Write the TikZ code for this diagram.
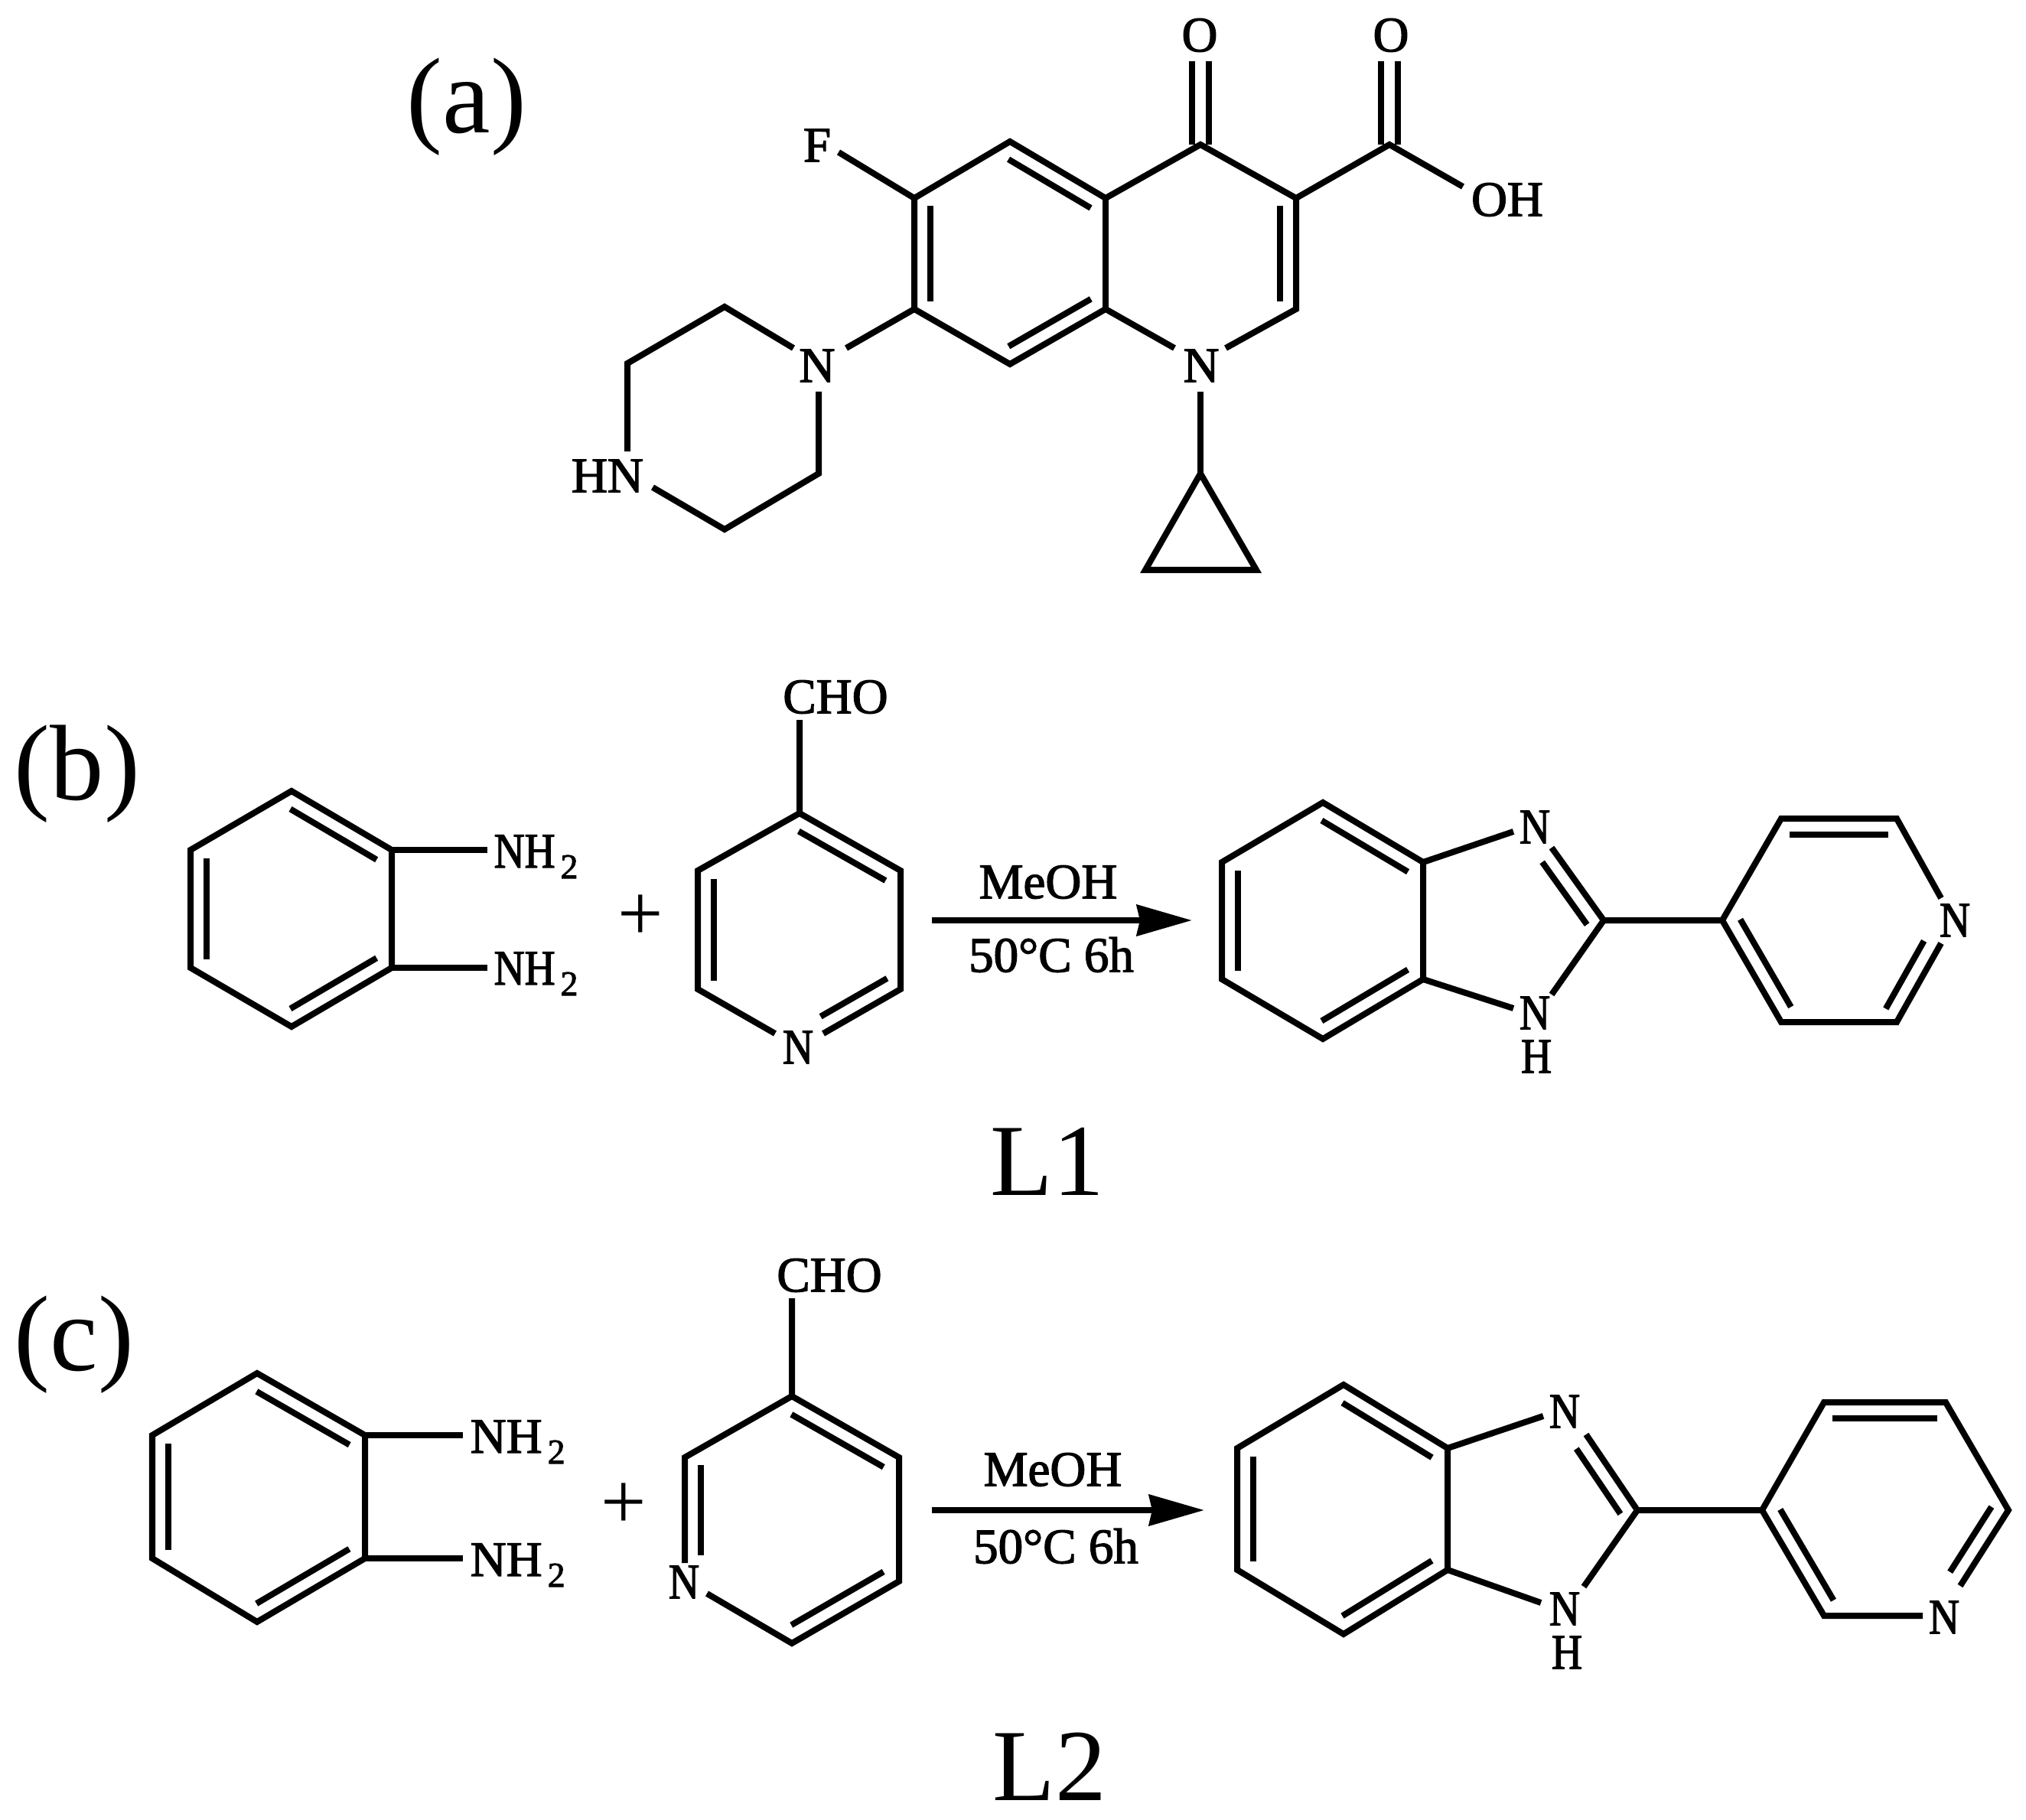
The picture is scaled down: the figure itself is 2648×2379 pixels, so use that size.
\documentclass[tikz,border=0pt]{standalone}
\usepackage{fontspec}
\setmainfont{Liberation Serif}
\newfontfamily\atomfont[FakeBold=2]{Liberation Serif}
\newfontfamily\narrowfont[FakeStretch=0.85,FakeBold=2]{Liberation Serif}
\usetikzlibrary{calc,arrows.meta}
\tikzset{
	bond/.style={line width=.08cm},
	atom/.style={inner sep=0pt,font=\atomfont\fontsize{18.5}{20}\selectfont},
	atomn/.style={inner sep=0pt,font=\narrowfont\fontsize{18.5}{20}\selectfont},
	amine/.style={atomn,anchor=base west},
	aminew/.style={atom,anchor=base west},
	panel/.style={inner sep=0pt,font=\fontsize{40}{44}\selectfont},
	ligand/.style={inner sep=0pt,font=\fontsize{38}{42}\selectfont},
	plussign/.style={inner sep=0pt,font=\fontsize{30}{32}\selectfont},
	reagent/.style={inner sep=0pt,font=\atomfont\fontsize{18.5}{20}\selectfont},
	yield/.style={line width=.085cm,-{Stealth[length=.72cm,width=.4cm,inset=.04cm]}}
}
\newcommand{\amino}{NH\kern2pt\raisebox{-4pt}{\atomfont\fontsize{13}{13}\selectfont 2}}
% inner line of a double bond, #3 = side (90 or -90)
\newcommand{\dbl}[3]{\draw [bond] ($(#1)!.07!(#2)!.21cm!#3:(#2)$) -- ($(#2)!.07!(#1)!.21cm!-#3:(#1)$);}
% carbonyl: two equal lines
\newcommand{\twin}[2]{
	\draw [bond] ($(#1)!.11cm!90:(#2)$) -- ($(#2)!.11cm!-90:(#1)$);
	\draw [bond] ($(#1)!.11cm!-90:(#2)$) -- ($(#2)!.11cm!90:(#1)$);
}
\begin{document}
\begin{tikzpicture}[x=.01cm,y=-.01cm]
	\useasboundingbox (0,0) rectangle (2648,2379);
	
	% (a)
	\node [panel] (lbla) at (610,140) {(a)};
	\node [atom] (oa) at (1568,46) {O};
	\node [atom] (ob) at (1818,46) {O};
	\node [atom] (oh) at (1970,261) {OH};
	\node [atom] (f) at (1068,190) {F};
	\node [atom] (npip) at (1068,478) {N};
	\node [atom] (nq) at (1570,478) {N};
	\node [atom] (hn) at (794,622) {HN};
	\coordinate (c5) at (1320,185);
	\coordinate (c6) at (1195,259);
	\coordinate (c7) at (1195,404);
	\coordinate (c8) at (1320,476);
	\coordinate (c8a) at (1445,404);
	\coordinate (c4a) at (1445,259);
	\coordinate (c4) at (1569,189);
	\coordinate (c3) at (1694,259);
	\coordinate (c2) at (1694,404);
	\coordinate (cx) at (1816,189);
	\coordinate (oae) at (1569,80);
	\coordinate (obe) at (1816,80);
	\coordinate (ohe) at (1912,244);
	\coordinate (fe) at (1096,199);
	\coordinate (n7) at (1106,455);
	\coordinate (n8) at (1535,455);
	\coordinate (n2) at (1602,455);
	\coordinate (nd) at (1569,512);
	\coordinate (cp1) at (1569,619);
	\coordinate (cp2) at (1497,745);
	\coordinate (cp3) at (1642,745);
	\coordinate (p1) at (1037,455);
	\coordinate (p2) at (947,401);
	\coordinate (p3) at (820,475);
	\coordinate (p4) at (820,590);
	\coordinate (p5) at (853,637);
	\coordinate (p6) at (947,692);
	\coordinate (p7) at (1070,619);
	\coordinate (p8) at (1070,512);
	\twin{c4}{oae}
	\twin{cx}{obe}
	\draw [bond] (n7) -- (c7) -- (c6) -- (c5) -- (c4a) -- (c4) -- (c3) -- (c2) -- (n2);
	\draw [bond] (c7) -- (c8) -- (c8a) -- (n8);
	\draw [bond] (c4a) -- (c8a);
	\draw [bond] (c6) -- (fe);
	\draw [bond] (c3) -- (cx) -- (ohe);
	\draw [bond] (nd) -- (cp1);
	\draw [bond] (cp1) -- (cp2) -- (cp3) -- cycle;
	\draw [bond] (p1) -- (p2) -- (p3) -- (p4);
	\draw [bond] (p5) -- (p6) -- (p7) -- (p8);
	\dbl{c5}{c4a}{-90}
	\dbl{c6}{c7}{90}
	\dbl{c8}{c8a}{90}
	\dbl{c3}{c2}{-90}
	
	% (b)
	\node [panel] (lblb) at (101,1012) {(b)};
	\coordinate (b1) at (381,1034);
	\coordinate (b2) at (512,1111);
	\coordinate (b3) at (512,1265);
	\coordinate (b4) at (381,1342);
	\coordinate (b5) at (249,1265);
	\coordinate (b6) at (249,1111);
	\coordinate (b2e) at (637,1111);
	\coordinate (b3e) at (637,1265);
	\node [amine] (nh1) at (645,1134) {\amino};
	\node [amine] (nh2) at (645,1287) {\amino};
	\draw [bond] (b1) -- (b2) -- (b3) -- (b4) -- (b5) -- (b6) -- cycle;
	\draw [bond] (b2) -- (b2e);
	\draw [bond] (b3) -- (b3e);
	\dbl{b1}{b2}{-90}
	\dbl{b3}{b4}{-90}
	\dbl{b5}{b6}{-90}
	\node [plussign] (plusb) at (837,1200) {+};
	\node [atom] (choa) at (1092,911) {CHO};
	\node [atomn] (npy) at (1043,1369) {N};
	\coordinate (y0) at (1045,941);
	\coordinate (y1) at (1045,1063);
	\coordinate (y2) at (1177,1138);
	\coordinate (y3) at (1177,1293);
	\coordinate (y4) at (1076,1351);
	\coordinate (y5) at (1013,1351);
	\coordinate (y6) at (912,1293);
	\coordinate (y7) at (912,1138);
	\draw [bond] (y0) -- (y1) -- (y2) -- (y3) -- (y4);
	\draw [bond] (y5) -- (y6) -- (y7) -- (y1);
	\dbl{y1}{y2}{-90}
	\dbl{y3}{y4}{-90}
	\dbl{y6}{y7}{-90}
	\coordinate (ars) at (1218,1203);
	\coordinate (are) at (1558,1203);
	\draw [yield] (ars) -- (are);
	\node [reagent] (meoha) at (1370,1153) {MeOH};
	\node [reagent] (conda) at (1374,1248) {50°C 6h};
	\coordinate (d1) at (1729,1049);
	\coordinate (d2) at (1860,1127);
	\coordinate (d3) at (1860,1280);
	\coordinate (d4) at (1729,1358);
	\coordinate (d5) at (1597,1280);
	\coordinate (d6) at (1597,1127);
	\node [atomn] (ntop) at (2006,1081) {N};
	\node [atomn] (nbot) at (2006,1324) {N};
	\node [atomn] (hbot) at (2008,1381) {H};
	\coordinate (e1) at (1978,1087);
	\coordinate (e2) at (2028,1108);
	\coordinate (e3) at (2096,1203);
	\coordinate (e4) at (2028,1300);
	\coordinate (e5) at (1978,1318);
	\coordinate (g1) at (2251,1203);
	\coordinate (g2) at (2328,1070);
	\coordinate (g3) at (2479,1070);
	\coordinate (g4) at (2537,1174);
	\coordinate (g5) at (2537,1233);
	\coordinate (g6) at (2479,1336);
	\coordinate (g7) at (2328,1336);
	\node [atomn] (nr) at (2555,1203) {N};
	\draw [bond] (d1) -- (d2) -- (d3) -- (d4) -- (d5) -- (d6) -- cycle;
	\draw [bond] (d2) -- (e1);
	\draw [bond] (d3) -- (e5);
	\draw [bond] (e2) -- (e3) -- (e4);
	\draw [bond] (e3) -- (g1) -- (g2) -- (g3) -- (g4);
	\draw [bond] (g5) -- (g6) -- (g7) -- (g1);
	\dbl{d1}{d2}{-90}
	\dbl{d3}{d4}{-90}
	\dbl{d5}{d6}{-90}
	\dbl{e2}{e3}{-90}
	\dbl{g2}{g3}{-90}
	\dbl{g5}{g6}{-90}
	\dbl{g7}{g1}{-90}
	\node [ligand] (lone) at (1369,1518) {L1};
	
	% (c)
	\node [panel] (lblc) at (97,1758) {(c)};
	\coordinate (h1) at (336,1795);
	\coordinate (h2) at (477,1876);
	\coordinate (h3) at (477,2037);
	\coordinate (h4) at (336,2120);
	\coordinate (h5) at (199,2037);
	\coordinate (h6) at (199,1876);
	\coordinate (h2e) at (605,1876);
	\coordinate (h3e) at (605,2037);
	\node [aminew] (nh3) at (614,1899) {\amino};
	\node [aminew] (nh4) at (614,2060) {\amino};
	\draw [bond] (h1) -- (h2) -- (h3) -- (h4) -- (h5) -- (h6) -- cycle;
	\draw [bond] (h2) -- (h2e);
	\draw [bond] (h3) -- (h3e);
	\dbl{h1}{h2}{-90}
	\dbl{h3}{h4}{-90}
	\dbl{h5}{h6}{-90}
	\node [plussign] (plusc) at (815,1969) {+};
	\node [atom] (chob) at (1084,1667) {CHO};
	\node [atomn] (npc) at (894,2068) {N};
	\coordinate (k0) at (1035,1697);
	\coordinate (k1) at (1035,1825);
	\coordinate (k2) at (1175,1905);
	\coordinate (k3) at (1175,2067);
	\coordinate (k4) at (1035,2148);
	\coordinate (k5) at (924,2083);
	\coordinate (k6) at (895,2043);
	\coordinate (k7) at (895,1905);
	\draw [bond] (k0) -- (k1) -- (k2) -- (k3) -- (k4) -- (k5);
	\draw [bond] (k6) -- (k7) -- (k1);
	\dbl{k1}{k2}{-90}
	\dbl{k3}{k4}{-90}
	\dbl{k6}{k7}{-90}
	\coordinate (brs) at (1218,1974);
	\coordinate (bre) at (1574,1974);
	\draw [yield] (brs) -- (bre);
	\node [reagent] (meohb) at (1376,1921) {MeOH};
	\node [reagent] (condb) at (1380,2021) {50°C 6h};
	\coordinate (m1) at (1756,1810);
	\coordinate (m2) at (1892,1893);
	\coordinate (m3) at (1892,2052);
	\coordinate (m4) at (1756,2136);
	\coordinate (m5) at (1617,2052);
	\coordinate (m6) at (1617,1893);
	\node [atomn] (ntc) at (2045,1845) {N};
	\node [atomn] (nbc) at (2045,2103) {N};
	\node [atomn] (hbc) at (2048,2160) {H};
	\coordinate (q1) at (2017,1851);
	\coordinate (q2) at (2073,1875);
	\coordinate (q3) at (2140,1974);
	\coordinate (q4) at (2070,2074);
	\coordinate (q5) at (2014,2095);
	\coordinate (s1) at (2303,1974);
	\coordinate (s2) at (2384,1833);
	\coordinate (s3) at (2543,1833);
	\coordinate (s4) at (2625,1974);
	\coordinate (s5) at (2562,2073);
	\coordinate (s6) at (2513,2112);
	\coordinate (s7) at (2384,2112);
	\node [atomn] (nrc) at (2541,2114) {N};
	\draw [bond] (m1) -- (m2) -- (m3) -- (m4) -- (m5) -- (m6) -- cycle;
	\draw [bond] (m2) -- (q1);
	\draw [bond] (m3) -- (q5);
	\draw [bond] (q2) -- (q3) -- (q4);
	\draw [bond] (q3) -- (s1) -- (s2) -- (s3) -- (s4) -- (s5);
	\draw [bond] (s6) -- (s7) -- (s1);
	\dbl{m1}{m2}{-90}
	\dbl{m3}{m4}{-90}
	\dbl{m5}{m6}{-90}
	\dbl{q2}{q3}{-90}
	\dbl{s2}{s3}{-90}
	\dbl{s4}{s5}{-90}
	\dbl{s7}{s1}{-90}
	\node [ligand] (ltwo) at (1372,2309) {L2};
\end{tikzpicture}
\end{document}
